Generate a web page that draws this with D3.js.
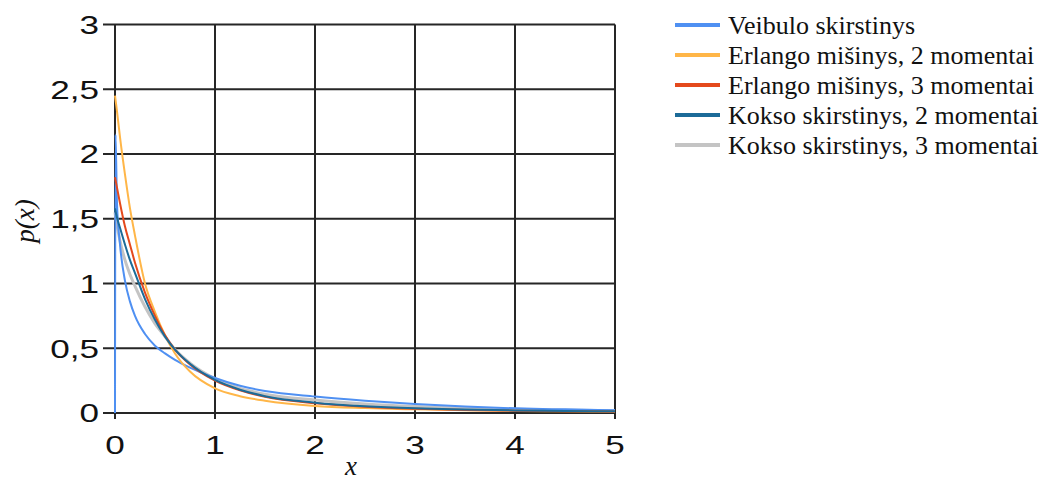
<!DOCTYPE html>
<html>
<head>
<meta charset="utf-8">
<script src="https://cdn.jsdelivr.net/npm/d3@7"></script>
<style>
  html, body { margin: 0; padding: 0; background: #fff; }
  svg { display: block; }
</style>
</head>
<body>
<svg id="chart" width="1049" height="481"></svg>
<script>
// Sample points on the x axis shared by every density curve
const xValues = [0, 0.005, 0.02, 0.05, 0.1, 0.15, 0.2, 0.3, 0.4, 0.5, 0.6, 0.75,
                 1, 1.25, 1.5, 2, 2.5, 3, 3.5, 4, 4.5, 5];

// Density values p(x) for each approximation
const weibull  = [0, 2.15, 1.62, 1.3, 1.02, 0.86, 0.75, 0.61, 0.52, 0.46, 0.41, 0.35,
                  0.27, 0.21, 0.17, 0.127, 0.095, 0.07, 0.05, 0.036, 0.028, 0.022];
const erlang2  = [2.45, 2.42, 2.33, 2.13, 1.84, 1.58, 1.37, 1.0, 0.78, 0.6, 0.46, 0.32,
                  0.19, 0.13, 0.095, 0.055, 0.038, 0.028, 0.021, 0.016, 0.013, 0.011];
const erlang3  = [1.82, 1.8, 1.74, 1.62, 1.44, 1.3, 1.16, 0.93, 0.75, 0.6, 0.49, 0.375,
                  0.25, 0.175, 0.125, 0.075, 0.048, 0.033, 0.024, 0.018, 0.014, 0.012];
const cox2     = [1.58, 1.56, 1.51, 1.43, 1.3, 1.18, 1.08, 0.88, 0.72, 0.59, 0.49, 0.38,
                  0.255, 0.18, 0.13, 0.08, 0.052, 0.036, 0.027, 0.02, 0.016, 0.013];
const cox3     = [1.55, 1.52, 1.45, 1.33, 1.18, 1.07, 0.98, 0.82, 0.69, 0.59, 0.49, 0.385,
                  0.265, 0.19, 0.145, 0.1, 0.07, 0.05, 0.037, 0.028, 0.022, 0.018];

const seriesNames = ["Veibulo skirstinys", "Erlango mišinys, 2 momentai",
                     "Erlango mišinys, 3 momentai", "Kokso skirstinys, 2 momentai",
                     "Kokso skirstinys, 3 momentai"];
const seriesValues = [weibull, erlang2, erlang3, cox2, cox3];
const seriesColors = ["#4f90f2", "#ffb648", "#e4491c", "#1c6b98", "#c4c4c4"];

const xTicks = [0, 1, 2, 3, 4, 5];
const yTicks = [0, 0.5, 1, 1.5, 2, 2.5, 3];
const yTickLabels = ["0", "0,5", "1", "1,5", "2", "2,5", "3"];

const svg = d3.select("#chart");
const x = d3.scaleLinear().domain([0, 5]).range([115, 615]);
const y = d3.scaleLinear().domain([0, 3]).range([413, 24.5]);

const gridColor = "#262626";

// Grid
const grid = svg.append("g");
grid.selectAll("line.v").data(xTicks).join("line")
  .attr("x1", d => x(d)).attr("x2", d => x(d))
  .attr("y1", y(3)).attr("y2", y(0) + 6)
  .attr("stroke", gridColor).attr("stroke-width", 2);
grid.selectAll("line.h").data(yTicks).join("line")
  .attr("x1", x(0) - 12).attr("x2", x(5))
  .attr("y1", d => y(d)).attr("y2", d => y(d))
  .attr("stroke", gridColor).attr("stroke-width", 2);

// Tick labels (wide sans digits)
const tickFont = "'Liberation Sans', Arial, sans-serif";
svg.append("g").selectAll("text").data(yTicks).join("text")
  .attr("transform", d => `translate(99,${y(d)}) scale(1.35,1)`)
  .attr("text-anchor", "end").attr("dy", "0.36em")
  .attr("font-family", tickFont).attr("font-size", 26).attr("fill", "#111")
  .text((d, i) => yTickLabels[i]);
svg.append("g").selectAll("text").data(xTicks).join("text")
  .attr("transform", d => `translate(${x(d)},454) scale(1.35,1)`)
  .attr("text-anchor", "middle")
  .attr("font-family", tickFont).attr("font-size", 26).attr("fill", "#111")
  .text(d => d);

// Axis titles
svg.append("text")
  .attr("transform", `translate(34,221) rotate(-90)`)
  .attr("text-anchor", "middle")
  .attr("font-family", "'Liberation Serif', 'Times New Roman', serif")
  .attr("font-style", "italic").attr("font-size", 27).attr("fill", "#111")
  .text("p(x)");
svg.append("text")
  .attr("x", 351).attr("y", 475)
  .attr("text-anchor", "middle")
  .attr("font-family", "'Liberation Serif', 'Times New Roman', serif")
  .attr("font-style", "italic").attr("font-size", 27).attr("fill", "#111")
  .text("x");

// Curves
const line = d3.line()
  .x((d, i) => x(xValues[i]))
  .y(d => y(d))
  .curve(d3.curveMonotoneX);

const drawOrder = [4, 0, 1, 2, 3];
const curves = svg.append("g").attr("fill", "none");
drawOrder.forEach(k => {
  curves.append("path")
    .attr("d", line(seriesValues[k]))
    .attr("stroke", seriesColors[k])
    .attr("stroke-width", k === 4 ? 3 : 2)
    .attr("stroke-linejoin", "round");
});

// Legend
const legend = svg.append("g").attr("transform", "translate(675,25)");
const rows = legend.selectAll("g").data(seriesNames).join("g")
  .attr("transform", (d, i) => `translate(0,${i * 30})`);
rows.append("line")
  .attr("x1", 0).attr("x2", 45).attr("y1", 0).attr("y2", 0)
  .attr("stroke", (d, i) => seriesColors[i]).attr("stroke-width", 4);
rows.append("text")
  .attr("x", 53).attr("y", 9)
  .attr("font-family", "'Liberation Serif', 'Times New Roman', serif")
  .attr("font-size", 26).attr("fill", "#111")
  .text(d => d);
</script>
</body>
</html>
